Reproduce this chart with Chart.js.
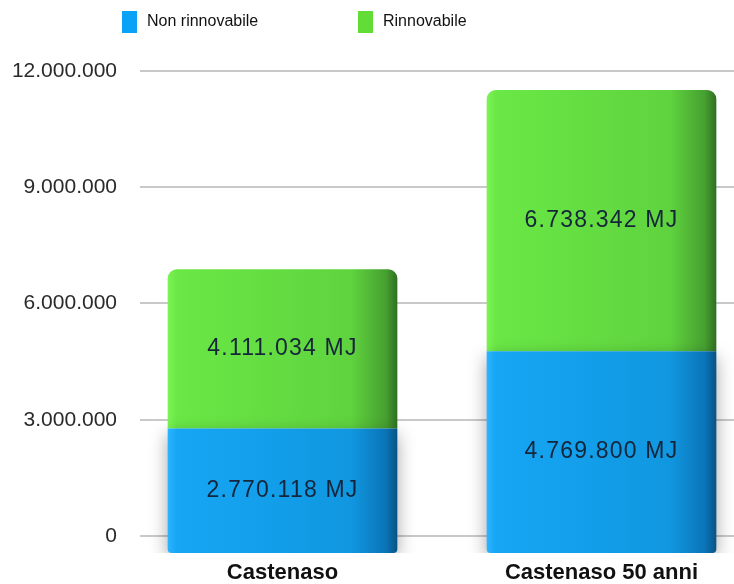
<!DOCTYPE html>
<html>
<head>
<meta charset="utf-8">
<script src="https://cdn.jsdelivr.net/npm/chart.js@4.4.1/dist/chart.umd.min.js"></script>
<style>
  html, body { margin: 0; padding: 0; background: #fff; overflow: hidden; }
  /* plot runs past the right edge of the window, like the original */
  #wrap { width: 761px; height: 584px; position: relative; }
</style>
</head>
<body>
<div id="wrap"><canvas id="energyChart"></canvas></div>
<script>
// Energia non rinnovabile / rinnovabile (MJ)
const categories = ["Castenaso", "Castenaso 50 anni"];
const seriesNames = ["Non rinnovabile", "Rinnovabile"];
const nonRinnovabile = [2770118, 4769800];
const rinnovabile = [4111034, 6738342];
const yTicks = [0, 3000000, 6000000, 9000000, 12000000];

const CAT_PCT = 0.72;
const FLOOR = -440000; // bars sink into the 3D floor below the 0 line
const FONT = '"Liberation Sans", Helvetica, Arial, sans-serif';

function fmt(n) {
  return String(Math.round(n)).replace(/\B(?=(\d{3})+(?!\d))/g, ".");
}

// horizontal shading across each bar, lighter left, dark right edge
function barGradient(stops, fallback) {
  return (c) => {
    const chart = c.chart;
    const x = chart.scales && chart.scales.x;
    if (!chart.chartArea || !x || c.type !== "data") return fallback;
    const cx = x.getPixelForValue(c.dataIndex);
    const half = (x.width / categories.length) * CAT_PCT / 2;
    const g = chart.ctx.createLinearGradient(cx - half, 0, cx + half, 0);
    stops.forEach(([p, col]) => g.addColorStop(p, col));
    return g;
  };
}

const blueStops = [[0, "#2cb4ff"], [0.04, "#16a6f4"], [0.8, "#1097e0"], [0.95, "#0b74b8"], [1, "#085384"]];
const greenStops = [[0, "#7cf455"], [0.04, "#6ae846"], [0.8, "#5fd33e"], [0.95, "#46a030"], [1, "#306e22"]];

const legendColors = ["#0aa2f7", "#62dc36"];

const customLegend = {
  id: "customLegend",
  afterDraw(chart) {
    const ctx = chart.ctx;
    const pos = [122, 358];
    ctx.save();
    ctx.font = "16px " + FONT;
    ctx.textBaseline = "middle";
    seriesNames.forEach((name, i) => {
      ctx.fillStyle = legendColors[i];
      ctx.fillRect(pos[i], 11, 15, 22);
      ctx.fillStyle = "#111";
      ctx.fillText(name, pos[i] + 25, 22);
    });
    ctx.restore();
  }
};

// gridlines start a little right of the labels; soft floor shadow under the bars
const barShadow = {
  id: "barShadow",
  beforeDatasetsDraw(chart) {
    const a = chart.chartArea;
    chart.ctx.save();
    chart.ctx.fillStyle = "#fff";
    chart.ctx.fillRect(a.left - 2, a.top - 4, 19, a.bottom - a.top + 8);
    chart.ctx.restore();
  },
  beforeDatasetDraw(chart, args) {
    const ctx = chart.ctx;
    ctx.save();
    if (args.index === 0) {
      ctx.shadowColor = "rgba(0,0,0,0.35)";
      ctx.shadowBlur = 18;
      ctx.shadowOffsetY = 6;
    }
  },
  afterDatasetDraw(chart) {
    chart.ctx.restore();
  }
};

const valueLabels = {
  id: "valueLabels",
  afterDatasetsDraw(chart) {
    const ctx = chart.ctx;
    ctx.save();
    ctx.font = "23px " + FONT;
    ctx.letterSpacing = "1.2px";
    ctx.fillStyle = "#15253a";
    ctx.textAlign = "center";
    ctx.textBaseline = "middle";
    chart.data.datasets.forEach((ds, di) => {
      chart.getDatasetMeta(di).data.forEach((el, i) => {
        const p = el.getProps(["x", "y", "base"], true);
        ctx.fillText(fmt(ds.data[i]) + " MJ", p.x, (p.y + p.base) / 2);
      });
    });
    ctx.restore();
  }
};

new Chart(document.getElementById("energyChart"), {
  type: "bar",
  data: {
    labels: categories,
    datasets: [
      {
        label: seriesNames[0],
        data: nonRinnovabile,
        base: FLOOR,
        backgroundColor: barGradient(blueStops, "#1097e0"),
        borderSkipped: false,
        borderRadius: { topLeft: 0, topRight: 0, bottomLeft: 4, bottomRight: 4 },
      },
      {
        label: seriesNames[1],
        data: rinnovabile,
        backgroundColor: barGradient(greenStops, "#5fd33e"),
        borderSkipped: false,
        borderRadius: { topLeft: 9, topRight: 9, bottomLeft: 0, bottomRight: 0 },
      },
    ],
  },
  options: {
    responsive: true,
    maintainAspectRatio: false,
    animation: false,
    layout: { padding: { top: 71, right: 0, left: 0, bottom: 0 } },
    datasets: { bar: { categoryPercentage: CAT_PCT, barPercentage: 1 } },
    plugins: {
      legend: { display: false },
      tooltip: { enabled: false },
    },
    scales: {
      x: {
        stacked: true,
        grid: { display: false, drawTicks: false },
        border: { display: false },
        afterFit: (s) => { s.height = 31; },
        ticks: { padding: 7, color: "#111", font: { family: FONT, size: 22, weight: "bold" } },
      },
      y: {
        stacked: true,
        min: FLOOR,
        max: 12000000,
        afterBuildTicks: (s) => { s.ticks = yTicks.map((v) => ({ value: v })); },
        afterFit: (s) => { s.width = 123; },
        grid: { color: "#c9c9c9", lineWidth: 2, drawTicks: false },
        border: { display: false },
        ticks: {
          padding: 6,
          color: "#2a2a2a",
          font: { family: FONT, size: 21 },
          callback: (v) => fmt(v),
        },
      },
    },
  },
  plugins: [customLegend, barShadow, valueLabels],
});
</script>
</body>
</html>
